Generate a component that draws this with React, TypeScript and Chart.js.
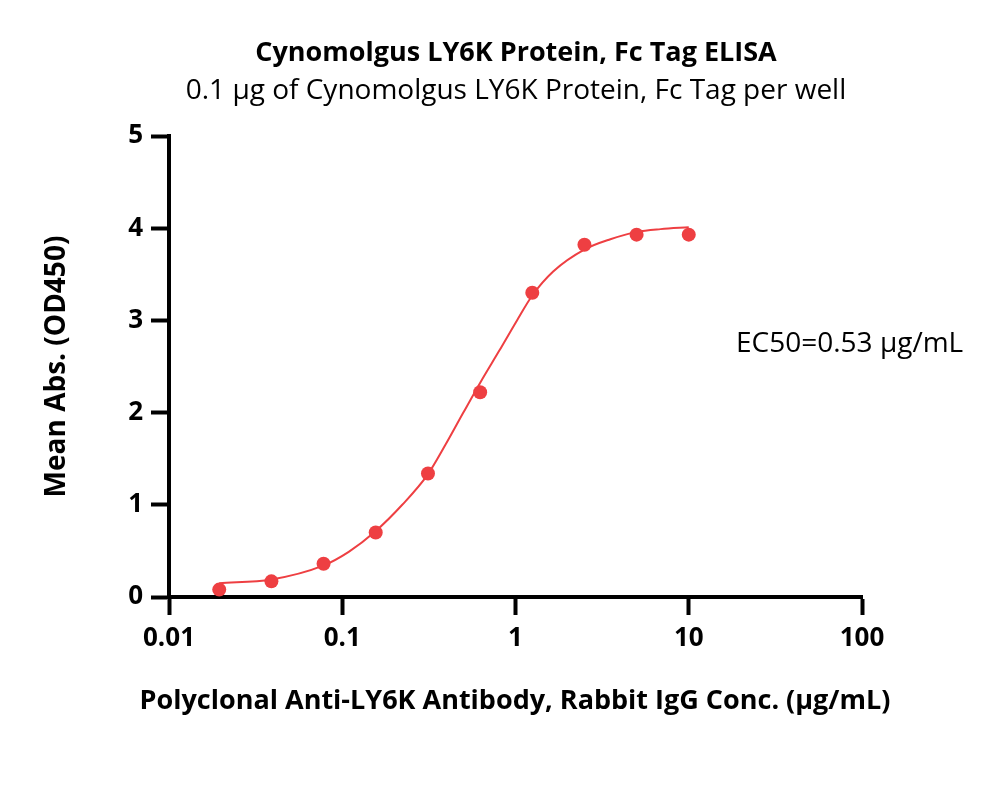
import React, { useEffect, useRef } from "react";
import { Chart, registerables } from "chart.js";

Chart.register(...registerables);

// measured points (mean OD450) at each antibody concentration, ug/mL
const concentrations = [0.0195, 0.039, 0.078, 0.156, 0.3125, 0.625, 1.25, 2.5, 5, 10];
const meanAbs = [0.08, 0.17, 0.36, 0.7, 1.34, 2.22, 3.3, 3.82, 3.93, 3.93];

// fitted curve
const fitConc = [0.0195, 0.039, 0.0775, 0.109, 0.155, 0.222, 0.312, 0.394, 0.5, 0.628, 0.805, 1.02, 1.25, 1.65, 2.51, 3.53, 5.03, 6.88, 10];
const fitAbs = [0.15, 0.19, 0.34, 0.49, 0.71, 1.0, 1.33, 1.65, 2.0, 2.33, 2.67, 3.0, 3.27, 3.53, 3.77, 3.88, 3.96, 3.99, 4.01];

const xTicks = [0.01, 0.1, 1, 10, 100];
const yTicks = [0, 1, 2, 3, 4, 5];

const title = "Cynomolgus LY6K Protein, Fc Tag ELISA";
const subtitle = "0.1 \u00b5g of Cynomolgus LY6K Protein, Fc Tag per well";
const ec50Label = "EC50=0.53 \u00b5g/mL";
const xTitle = "Polyclonal Anti-LY6K Antibody, Rabbit IgG Conc. (\u00b5g/mL)";
const yTitle = "Mean Abs. (OD450)";

const FONT = "'Open Sans', Lato, sans-serif";
const RED = "#ee3f42";

// titles, EC50 note and the x-axis title (the scale title would be squeezed to the axis width)
const textPlugin = {
  id: "texts",
  afterDraw(chart: Chart) {
    const ctx = chart.ctx;
    ctx.save();
    ctx.fillStyle = "#000";
    ctx.textAlign = "center";
    ctx.textBaseline = "alphabetic";
    ctx.font = `bold 27px ${FONT}`;
    ctx.fillText(title, 516, 61);
    ctx.fillText(xTitle, 515, 709);
    ctx.font = `28px ${FONT}`;
    ctx.fillText(subtitle, 516, 99);
    ctx.textAlign = "left";
    ctx.fillText(ec50Label, 736, 352);
    ctx.restore();
  },
};

const App = () => {
  const canvasRef = useRef<HTMLCanvasElement>(null);
  const chartRef = useRef<Chart | null>(null);

  useEffect(() => {
    document.body.style.margin = "0";
    if (!canvasRef.current) return;

    if (chartRef.current) chartRef.current.destroy();

    chartRef.current = new Chart(canvasRef.current, {
      type: "scatter",
      data: {
        datasets: [
          {
            label: "Mean Abs.",
            data: concentrations.map((c, i) => ({ x: c, y: meanAbs[i] })),
            backgroundColor: RED,
            borderColor: RED,
            pointRadius: 7,
            pointBorderWidth: 0,
            showLine: false,
          },
          {
            label: "Fit",
            data: fitConc.map((c, i) => ({ x: c, y: fitAbs[i] })),
            borderColor: RED,
            borderWidth: 2,
            pointRadius: 0,
            showLine: true,
            cubicInterpolationMode: "monotone",
          },
        ],
      },
      options: {
        responsive: false,
        animation: false,
        layout: { padding: { left: 40, top: 136, right: 138, bottom: 77 } },
        plugins: {
          legend: { display: false },
          tooltip: { enabled: false },
          title: { display: false },
        },
        scales: {
          x: {
            type: "logarithmic",
            min: 0.01,
            max: 100,
            afterBuildTicks: (scale: any) => {
              scale.ticks = xTicks.map((v) => ({ value: v }));
            },
            afterFit: (scale: any) => {
              scale.height = 120;
            },
            ticks: {
              color: "#000",
              font: { family: FONT, size: 26, weight: "bold" },
              padding: 8,
              autoSkip: false,
              maxRotation: 0,
              callback: (v: any) => String(v),
            },
            grid: {
              drawOnChartArea: false,
              drawTicks: true,
              tickLength: 18,
              tickWidth: 4,
              tickColor: "#000",
            },
            border: { display: true, color: "#000", width: 4 },
            title: { display: false },
          },
          y: {
            min: 0,
            max: 5,
            afterBuildTicks: (scale: any) => {
              scale.ticks = yTicks.map((v) => ({ value: v }));
            },
            afterFit: (scale: any) => {
              scale.width = 129;
            },
            ticks: {
              color: "#000",
              font: { family: FONT, size: 26, weight: "bold" },
              padding: 8,
            },
            grid: {
              drawOnChartArea: false,
              drawTicks: true,
              tickLength: 18,
              tickWidth: 4,
              tickColor: "#000",
            },
            border: { display: true, color: "#000", width: 4 },
            title: {
              display: true,
              text: yTitle,
              color: "#000",
              font: { family: FONT, size: 28, weight: "bold", lineHeight: 1.2 },
              padding: 0,
            },
          },
        },
      },
      plugins: [textPlugin],
    });

    return () => {
      if (chartRef.current) {
        chartRef.current.destroy();
        chartRef.current = null;
      }
    };
  }, []);

  return (
    <div style={{ position: "absolute", left: 0, top: 0, width: 1000, height: 794, background: "#fff" }}>
      <canvas ref={canvasRef} width={1000} height={794} />
    </div>
  );
};

export default App;
